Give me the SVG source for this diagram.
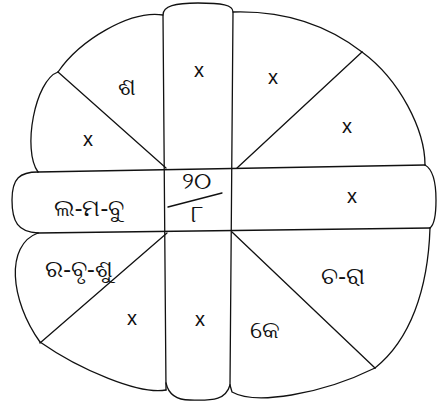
<svg xmlns="http://www.w3.org/2000/svg" width="437" height="408" viewBox="0 0 437 408">
<style>
.ln{fill:none;stroke:#111;stroke-width:1.3;stroke-linecap:round;stroke-linejoin:round}
.x{font-family:"Liberation Sans",sans-serif;font-size:20px;fill:#111;text-anchor:middle}
.od{font-family:"Noto Sans","DejaVu Sans",sans-serif;font-size:24px;fill:#111;text-anchor:middle}
</style>
<rect width="437" height="408" fill="#fff"/>
<g id="vertical-strip">
<path class="ln" d="M166,390 L163,15 C163,6 175,3 198,3 C222,3 233,5 233,12 L230,385"/>
<path class="ln" d="M166,383 C168,392 174,400 190,400 C215,401 226,399 230,385"/>
</g>
<g id="horizontal-strip">
<path class="ln" d="M38,172 L425,165"/>
<path class="ln" d="M38,233 L430,228"/>
<path class="ln" d="M38,172 C20,172 12,178 12,200 C12,222 18,232 38,233"/>
<path class="ln" d="M425,165 C434,170 436,185 436,200 C436,215 434,225 430,228"/>
</g>
<g id="cell-top-left-a">
<path class="ln" d="M163,15 C130,10 80,40 58,72"/>
<text class="od" x="127" y="95">ଶ</text>
</g>
<g id="cell-top-left-b">
<path class="ln" d="M58,72 C35,80 22,150 38,172"/>
<text class="x" x="88" y="146">x</text>
</g>
<g id="cell-top-center"><text class="x" x="199" y="77">x</text></g>
<g id="cell-top-right-a">
<path class="ln" d="M233,12 C300,10 340,35 362,52"/>
<text class="x" x="273" y="84">x</text>
</g>
<g id="cell-top-right-b">
<path class="ln" d="M362,52 C400,80 425,130 425,165"/>
<text class="x" x="347" y="133">x</text>
</g>
<g id="cell-left"><text class="od" x="89" y="216">ଲ-ମ-ବୁ</text></g>
<g id="cell-center">
<path class="ln" d="M168,207 L222,193"/>
<text class="od" x="196" y="189" font-size="12">୨୦</text>
<text class="od" x="197" y="222" font-size="13">୮</text>
</g>
<g id="cell-right"><text class="x" x="352" y="203">x</text></g>
<g id="cell-bottom-right-a">
<path class="ln" d="M430,228 C428,290 410,340 375,368"/>
<text class="od" x="343" y="284">ଚ-ରା</text>
</g>
<g id="cell-bottom-right-b">
<path class="ln" d="M375,368 C320,395 255,405 232,392 L230,385"/>
<text class="od" x="265" y="338">କେ</text>
</g>
<g id="cell-bottom-center"><text class="x" x="200" y="326">x</text></g>
<g id="cell-bottom-left-a">
<path class="ln" d="M38,233 C5,245 10,300 40,342"/>
<text class="od" x="79" y="277">ର-ବୃ-ଶୁ</text>
</g>
<g id="cell-bottom-left-b">
<path class="ln" d="M40,342 C80,370 140,395 166,390"/>
<text class="x" x="132" y="325">x</text>
</g>
<g id="connectors">
<path class="ln" d="M58,72 L166,168"/>
<path class="ln" d="M362,52 L237,168"/>
<path class="ln" d="M232,232 L375,368"/>
<path class="ln" d="M167,233 L40,343"/>
</g>
</svg>
